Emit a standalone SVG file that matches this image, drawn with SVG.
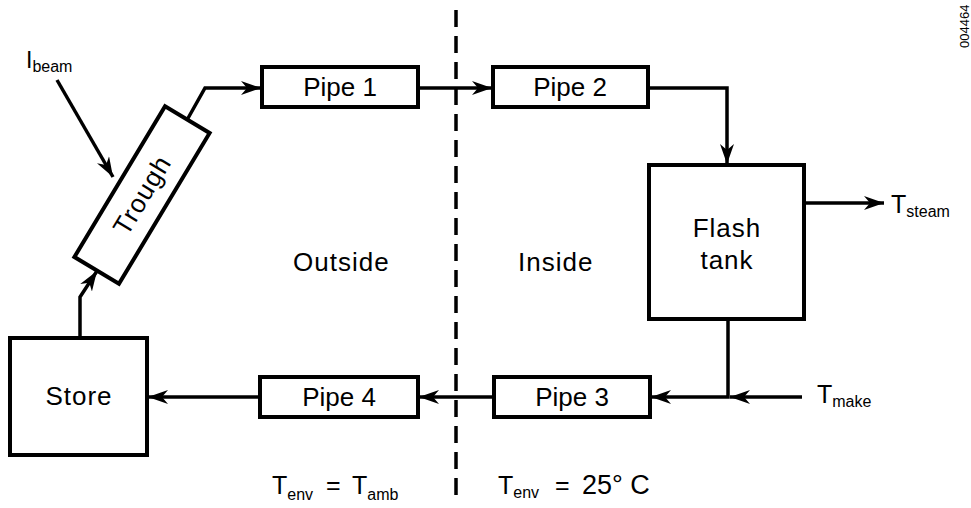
<svg xmlns="http://www.w3.org/2000/svg" width="971" height="508" viewBox="0 0 971 508">
<style>
.box{fill:none;stroke:#000;stroke-width:4;}
.ln{fill:none;stroke:#000;stroke-width:3.5;stroke-linejoin:miter;}
.t{font-family:"Liberation Sans",Arial,Helvetica,sans-serif;font-size:26px;fill:#000;}
.lbl{font-family:"Liberation Sans",Arial,Helvetica,sans-serif;font-size:26px;fill:#000;letter-spacing:1px;}
.sub{font-size:16px;}
.dash{fill:none;stroke:#000;stroke-width:3.5;stroke-dasharray:17 9;}
</style>
<defs>
<marker id="ah" markerUnits="userSpaceOnUse" markerWidth="22" markerHeight="14" refX="20" refY="7" orient="auto">
<path d="M0,0 L20,7 L0,14 L6,7 z" fill="#000"/>
</marker>
</defs>
<rect width="971" height="508" fill="#fff"/>

<line class="dash" x1="456" y1="10" x2="456" y2="495"/>

<g id="store">
<rect class="box" x="10" y="338" width="137" height="117"/>
<text class="lbl" x="79" y="405" text-anchor="middle">Store</text>
</g>
<g id="trough" transform="translate(142,195) rotate(-59)">
<rect class="box" x="-88" y="-26" width="176" height="52"/>
<text class="lbl" x="0" y="9" text-anchor="middle">Trough</text>
</g>
<g id="pipe1">
<rect class="box" x="262" y="67" width="156" height="40"/>
<text class="t" x="340" y="96" text-anchor="middle">Pipe 1</text>
</g>
<g id="pipe2">
<rect class="box" x="493" y="67" width="155" height="40"/>
<text class="t" x="570" y="96" text-anchor="middle">Pipe 2</text>
</g>
<g id="flash">
<rect class="box" x="649" y="165" width="155" height="154"/>
<text class="lbl" x="727" y="237" text-anchor="middle">Flash</text>
<text class="lbl" x="727" y="269" text-anchor="middle">tank</text>
</g>
<g id="pipe3">
<rect class="box" x="494" y="377" width="156" height="40"/>
<text class="t" x="572" y="406" text-anchor="middle">Pipe 3</text>
</g>
<g id="pipe4">
<rect class="box" x="260" y="377" width="158" height="40"/>
<text class="t" x="339" y="406" text-anchor="middle">Pipe 4</text>
</g>

<g id="connectors">
<path class="ln" d="M80,338 L80,297 L97,271" marker-end="url(#ah)"/>
<path class="ln" d="M187,120 L205,88 L261,88" marker-end="url(#ah)"/>
<path class="ln" d="M418,88 L492,88" marker-end="url(#ah)"/>
<path class="ln" d="M648,88 L727,88 L727,164" marker-end="url(#ah)"/>
<path class="ln" d="M804,203 L884,203" marker-end="url(#ah)"/>
<path class="ln" d="M728,319 L728,397 L651,397" marker-end="url(#ah)"/>
<path class="ln" d="M802,397 L730,397" marker-end="url(#ah)"/>
<path class="ln" d="M494,397 L419,397" marker-end="url(#ah)"/>
<path class="ln" d="M260,397 L148,397" marker-end="url(#ah)"/>
<path class="ln" d="M57,80 L113,177" marker-end="url(#ah)"/>
</g>

<g id="labels">
<text class="t" x="26" y="68" style="font-size:23px">I<tspan class="sub" dy="4">beam</tspan></text>
<text class="t" x="891" y="213" style="font-size:25px">T<tspan class="sub" dy="4">steam</tspan></text>
<text class="t" x="817" y="403" style="font-size:25px">T<tspan class="sub" dy="4">make</tspan></text>
<text class="lbl" x="293" y="271">Outside</text>
<text class="lbl" x="518" y="271">Inside</text>
<text class="t" x="272" y="494" style="font-size:25px">T<tspan class="sub" dy="6">env</tspan><tspan dy="-6" x="326">=</tspan><tspan x="352">T</tspan><tspan class="sub" dy="6">amb</tspan></text>
<text class="t" x="498" y="494" style="font-size:25px">T<tspan class="sub" dy="4">env</tspan><tspan dy="-4" x="555">=</tspan><tspan x="582" style="font-size:27px">25° C</tspan></text>
<text class="t" transform="translate(969,48) rotate(-90)" style="font-size:13px">004464</text>
</g>
</svg>
